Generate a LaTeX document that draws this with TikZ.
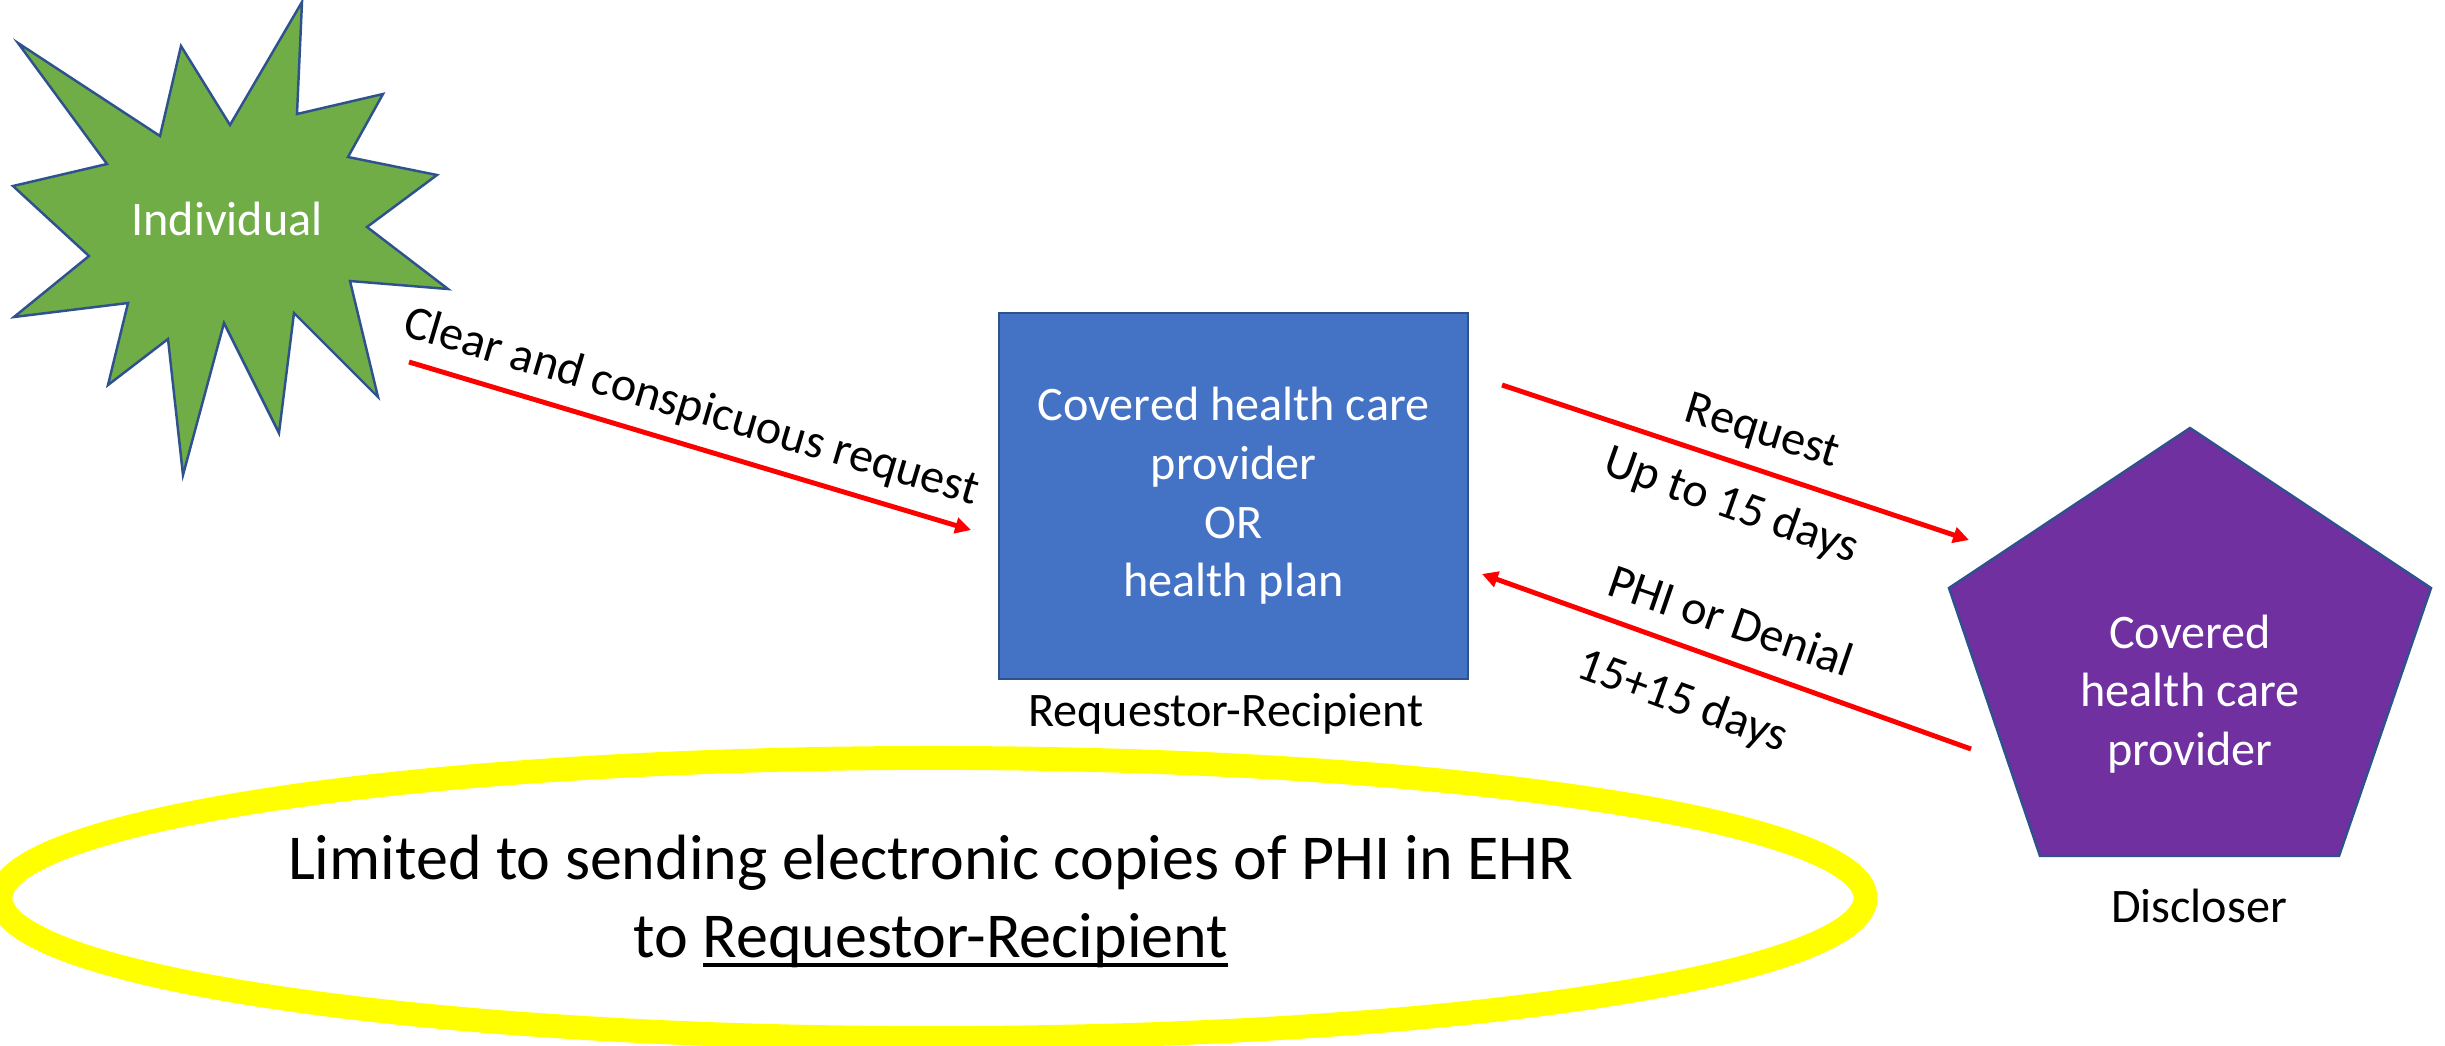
\documentclass[tikz,border=0pt]{standalone}
\usepackage{fontspec}
\setmainfont{Carlito}
\usetikzlibrary{arrows.meta}
\definecolor{stargreen}{HTML}{70AD47}
\definecolor{boxblue}{HTML}{4472C4}
\definecolor{edgeblue}{HTML}{2F528F}
\definecolor{pentpurple}{HTML}{7030A0}
\definecolor{arrowred}{HTML}{FF0000}
\definecolor{ringyellow}{HTML}{FFFF00}
\newcommand\lblfont{\fontsize{13.7}{16.7}\selectfont}
\newcommand\bigfont{\fontsize{18.2}{22.2}\selectfont}
\newcommand\myuline[1]{{\setbox0\hbox{#1}\rlap{\rule[-2.8pt]{\wd0}{1.1pt}}\box0}}
\begin{document}
\begin{tikzpicture}[x=0.01cm,y=-0.01cm,
  shapeedge/.style={draw=edgeblue,line width=0.7pt,line join=miter},
  whitetext/.style={text=white,font=\lblfont,align=center,inner sep=0pt},
  blacktext/.style={text=black,font=\lblfont,inner sep=0pt},
  flow/.style={draw=arrowred,line width=1.4pt,-{Triangle[length=4.5pt,width=4.5pt]}},
  arrowlabel/.style={text=black,font=\lblfont,inner sep=0pt}]
\useasboundingbox (0,0) rectangle (2445,1045);
\fill[white] (0,0) rectangle (2445,1045);
\clip (0,0) rectangle (2445,1045);

% star (Individual)
\draw[shapeedge,fill=stargreen]
 (18,43) -- (160,136) -- (181,46) -- (230,125) -- (302,2) -- (297,114)
 -- (383,94) -- (348,157) -- (437,175) -- (367,227) -- (448,289) -- (350,281)
 -- (378,397) -- (294,313) -- (279,433) -- (224,323) -- (183,475) -- (168,339)
 -- (108,385) -- (128,303) -- (14,317) -- (89,256) -- (13,186) -- (107,164) -- cycle;
\node[whitetext] (ind) at (227,219) {Individual};

% box (Requestor-Recipient)
\node[shapeedge,fill=boxblue,minimum width=4.69cm,minimum height=3.66cm,
      whitetext] (req) at (1233.5,496)
      {Covered health care\\provider\\OR\\health plan};
\node[blacktext,anchor=base] (reqlbl) at (1226,726) {Requestor-Recipient};

% pentagon (Discloser)
\draw[shapeedge,fill=pentpurple]
 (2190,428) -- (2431,588) -- (2339,856) -- (2040,856) -- (1949,588) -- cycle;
\node[whitetext] (disc) at (2190,694) {Covered\\health care\\provider};
\node[blacktext,anchor=base] (disclbl) at (2199,922) {Discloser};

% ellipse ring
\draw[ringyellow,line width=6.8pt] (933,898) ellipse [x radius=9.32cm, y radius=1.40cm];
\node[text=black,font=\bigfont,inner sep=0pt,anchor=base] (lim1) at (931,879)
  {Limited to sending electronic copies of PHI in EHR};
\node[text=black,font=\bigfont,inner sep=0pt,anchor=base] (lim2) at (931,957)
  {to \myuline{Requestor-Recipient}};

% connectors
\coordinate (a1s) at (409,362);
\coordinate (a1e) at (971,530);
\coordinate (a2s) at (1502,385);
\coordinate (a2e) at (1969,540);
\coordinate (a3s) at (1971,749);
\coordinate (a3e) at (1482,574);
\draw[flow] (a1s) -- (a1e);
\draw[flow] (a2s) -- (a2e);
\draw[flow] (a3s) -- (a3e);

\node[arrowlabel,rotate=-16.5] (l1) at (691,408) {Clear and conspicuous request};
\node[arrowlabel,rotate=-17] (l2) at (1762,433) {Request};
\node[arrowlabel,rotate=-19.5] (l3) at (1731,506) {Up to 15 days};
\node[arrowlabel,rotate=-19] (l4) at (1731,620) {PHI or Denial};
\node[arrowlabel,rotate=-20] (l5) at (1682,702) {15+15 days};
\end{tikzpicture}
\end{document}
